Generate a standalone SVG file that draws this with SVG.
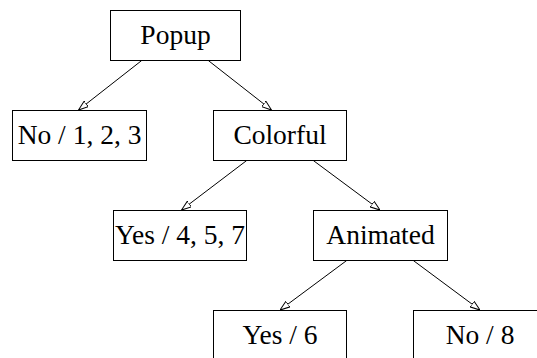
<svg xmlns="http://www.w3.org/2000/svg" width="537" height="358" viewBox="0 0 537 358">
<style>
.box{fill:#fff;stroke:#000;stroke-width:1}
.lbl{font-family:"Liberation Serif",serif;font-size:27.5px;fill:#000;text-anchor:middle}
.edge{stroke:#000;stroke-width:1;fill:none;marker-end:url(#arr)}
</style>
<defs>
<marker id="arr" viewBox="0 0 10 8" refX="10" refY="4" markerWidth="10" markerHeight="8" markerUnits="userSpaceOnUse" orient="auto">
<path d="M0,0.5 L10,4 L0,7.5 Z" fill="#fff" stroke="#000" stroke-width="1"/>
</marker>
</defs>
<rect width="537" height="358" fill="#fff"/>
<g id="connectors">
<line class="edge" x1="141.7" y1="60.5" x2="78.5" y2="110"/>
<line class="edge" x1="208.3" y1="60.5" x2="271.5" y2="110"/>
<line class="edge" x1="246.7" y1="160.5" x2="181.5" y2="210"/>
<line class="edge" x1="313.3" y1="160.5" x2="380" y2="210"/>
<line class="edge" x1="346.7" y1="260.5" x2="280" y2="310"/>
<line class="edge" x1="413.3" y1="260.5" x2="480" y2="310"/>
</g>
<g id="popup"><rect class="box" x="110.5" y="10.5" width="130" height="50"/><text class="lbl" x="175.5" y="44">Popup</text></g>
<g id="no123"><rect class="box" x="12.5" y="110.5" width="134" height="50"/><text class="lbl" x="79.5" y="144">No / 1, 2, 3</text></g>
<g id="colorful"><rect class="box" x="213.5" y="110.5" width="133" height="50"/><text class="lbl" x="280" y="144">Colorful</text></g>
<g id="yes457"><rect class="box" x="113.5" y="210.5" width="133" height="50"/><text class="lbl" x="180" y="244">Yes / 4, 5, 7</text></g>
<g id="animated"><rect class="box" x="313.5" y="210.5" width="134" height="50"/><text class="lbl" x="380.5" y="244">Animated</text></g>
<g id="yes6"><rect class="box" x="213.5" y="310.5" width="133" height="50"/><text class="lbl" x="280" y="344">Yes / 6</text></g>
<g id="no8"><rect class="box" x="413.5" y="310.5" width="133" height="50"/><text class="lbl" x="480" y="344">No / 8</text></g>
</svg>
